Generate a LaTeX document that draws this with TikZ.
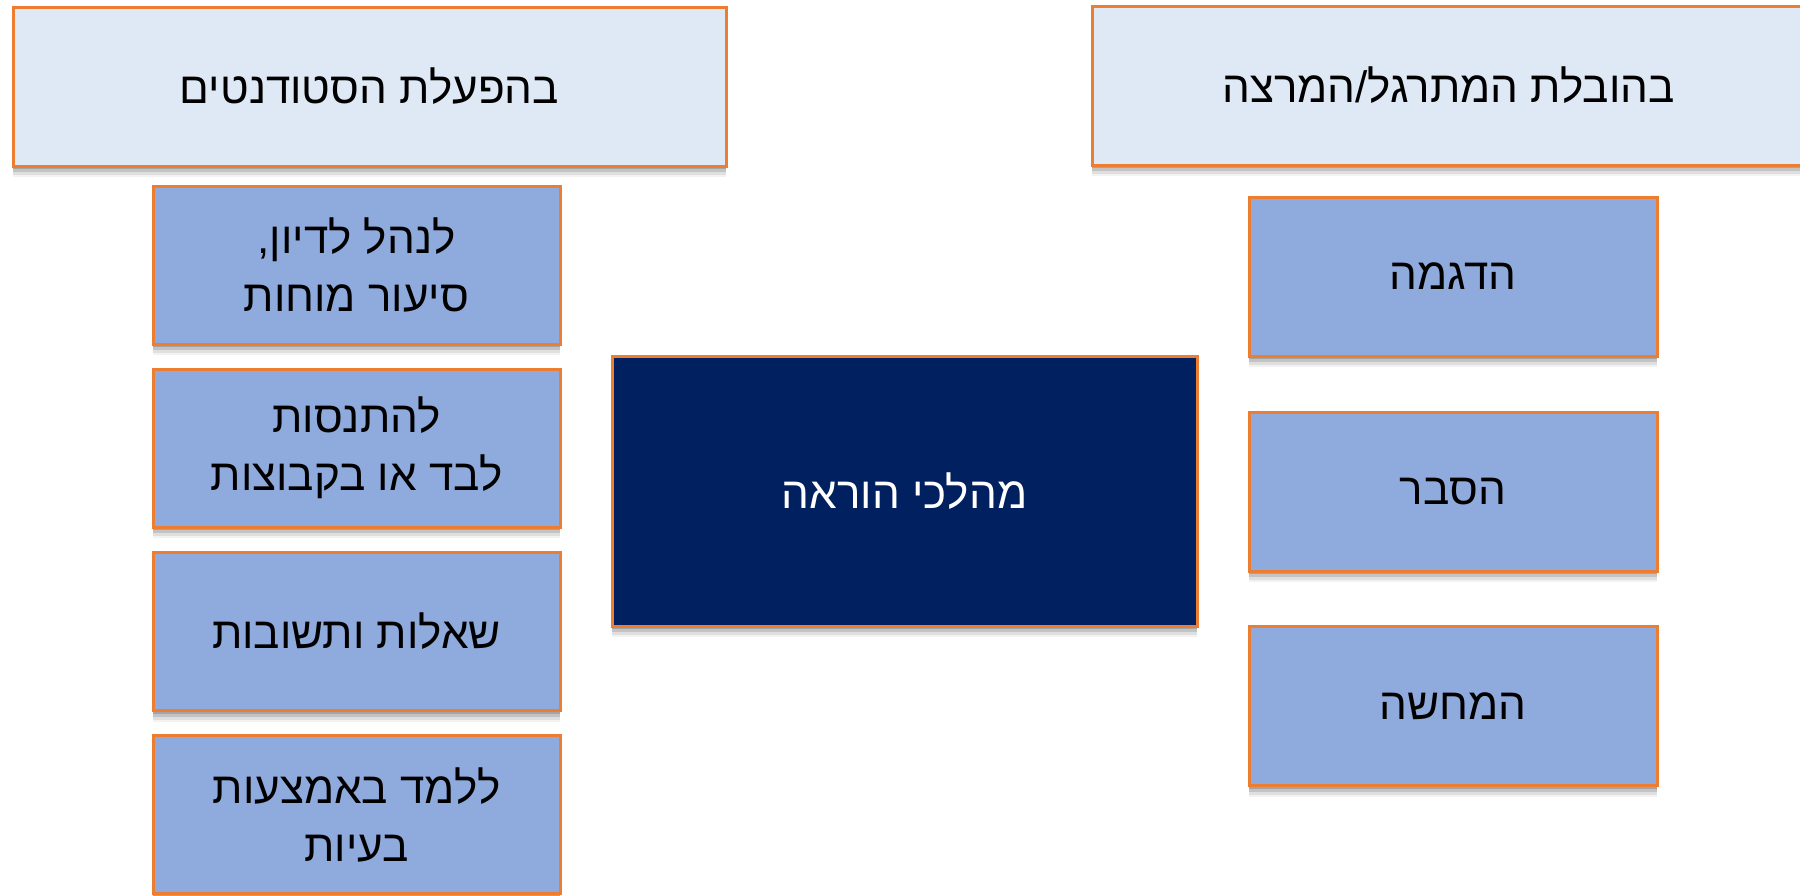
\documentclass[tikz,border=0pt]{standalone}
\usepackage{fontspec}
\newfontfamily\hebfont[Script=Hebrew]{Liberation Sans}
\TeXXeTstate=1
\definecolor{orangeline}{HTML}{ED7D31}
\definecolor{lightfill}{HTML}{DEE9F5}
\definecolor{midfill}{HTML}{8FAADC}
\definecolor{darkfill}{HTML}{002060}
\tikzset{
  softshadow/.style={
    preaction={fill=black,fill opacity=0.16,draw=none,transform canvas={yshift=-1.5pt}},
    preaction={fill=black,fill opacity=0.12,draw=none,transform canvas={yshift=-3pt}},
    preaction={fill=black,fill opacity=0.08,draw=none,transform canvas={yshift=-4.5pt}},
    preaction={fill=black,fill opacity=0.05,draw=none,transform canvas={yshift=-5.5pt}}},
  basebox/.style={rectangle, draw=orangeline, line width=1.5pt, softshadow,
    align=center, inner sep=0pt,
    font=\hebfont\fontsize{22pt}{29pt}\selectfont},
  headbox/.style={basebox, fill=lightfill, text=black,
    minimum width=356.5pt, minimum height=79.5pt},
  itembox/.style={basebox, fill=midfill, text=black,
    minimum width=203.5pt, minimum height=79pt},
  centerbox/.style={basebox, fill=darkfill, text=white,
    minimum width=292.5pt, minimum height=135pt}
}
\begin{document}
\begin{tikzpicture}[x=0.5pt,y=-0.5pt]
\useasboundingbox (0,0) rectangle (1800,895);
\node[headbox] (tl) at (369.5,86.5) {\beginR בהפעלת הסטודנטים\endR};
\node[headbox] (tr) at (1448.5,85.5) {\beginR בהובלת המתרגל/המרצה\endR};
\node[itembox] (l1) at (356.5,265) {\beginR לנהל לדיון,\endR\\\beginR סיעור מוחות\endR};
\node[itembox] (l2) at (356.5,448) {\beginR להתנסות\endR\\\beginR לבד או בקבוצות\endR};
\node[itembox] (l3) at (356.5,631.5) {\beginR שאלות ותשובות\endR};
\node[itembox] (l4) at (356.5,814.5) {\beginR ללמד באמצעות\endR\\\beginR בעיות\endR};
\node[centerbox] (c) at (904.5,491) {\beginR מהלכי הוראה\endR};
\node[itembox, minimum width=204pt, minimum height=79.5pt] (r1) at (1453,276.5) {\beginR הדגמה\endR};
\node[itembox, minimum width=204pt, minimum height=79.5pt] (r2) at (1453,491.5) {\beginR הסבר\endR};
\node[itembox, minimum width=204pt, minimum height=79.5pt] (r3) at (1453,706) {\beginR המחשה\endR};
\end{tikzpicture}
\end{document}
